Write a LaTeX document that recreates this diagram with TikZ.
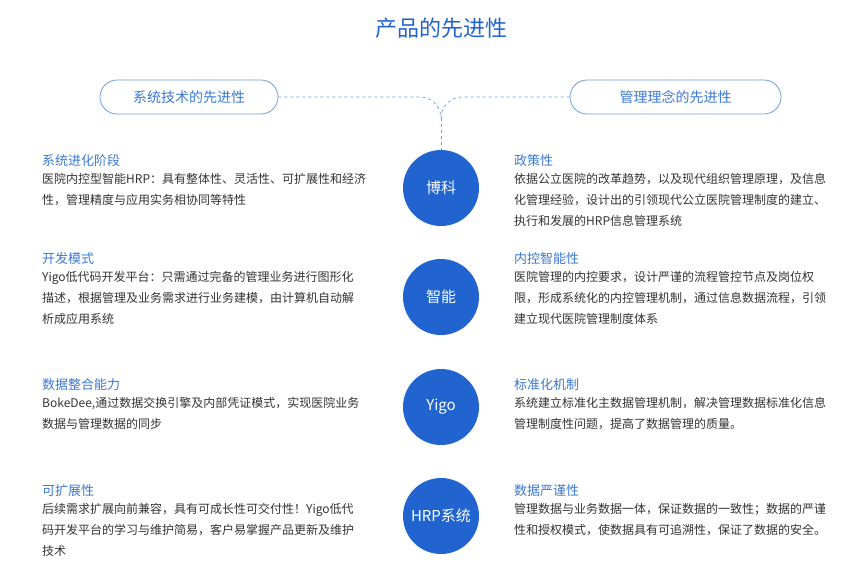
\documentclass[tikz,border=0pt]{standalone}
\usepackage{fontspec}
\setmainfont{Noto Sans CJK SC}
\definecolor{cblue}{HTML}{2163CF}
\definecolor{hblue}{HTML}{3A78D6}
\definecolor{lblue}{HTML}{6F9BE0}
\definecolor{txt}{HTML}{333333}
\tikzset{
 pill/.style={draw=lblue,line width=0.8pt,rounded corners=17pt,minimum width=178pt,minimum height=34pt,text=hblue,font=\fontsize{14}{16}\selectfont},
 circ/.style={circle,fill=cblue,minimum size=76pt,text=white,font=\fontsize{15}{18}\selectfont},
 head/.style={anchor=north west,text=hblue,font=\fontsize{13}{15}\selectfont,inner sep=0pt},
 body/.style={anchor=north west,text=txt,font=\fontsize{12}{21}\selectfont,align=left,inner sep=0pt},
 dashline/.style={draw=lblue,dashed,line width=0.7pt}
}
\begin{document}
\begin{tikzpicture}[x=1pt,y=-1pt]
\useasboundingbox (0,0) rectangle (867,571);
\node[text=cblue,font=\fontsize{22}{26}\selectfont] (title) at (441,28) {产品的先进性};
\node[pill] (L) at (189,97) {系统技术的先进性};
\node[pill,minimum width=211pt] (R) at (675.5,97) {管理理念的先进性};
\node[circ] (c1) at (441,188) {博科};
\node[circ] (c2) at (441,297) {智能};
\node[circ] (c3) at (441,407) {Yigo};
\node[circ] (c4) at (441,516) {HRP系统};
\coordinate (m) at (441,118);
\draw[dashline] (L.east) -- (420,97) to[out=0,in=90] (m);
\draw[dashline] (R.west) -- (462,97) to[out=180,in=90] (m);
\draw[dashline] (m) -- (c1.north);
% left
\node[head] (h1) at (42,154) {系统进化阶段};
\node[body] (b1) at (42,173) {医院内控型智能HRP：具有整体性、灵活性、可扩展性和经济\\性，管理精度与应用实务相协同等特性};
\node[head] (h2) at (42,252) {开发模式};
\node[body] (b2) at (42,271) {Yigo低代码开发平台：只需通过完备的管理业务进行图形化\\描述，根据管理及业务需求进行业务建模，由计算机自动解\\析成应用系统};
\node[head] (h3) at (42,378) {数据整合能力};
\node[body] (b3) at (42,397) {BokeDee,通过数据交换引擎及内部凭证模式，实现医院业务\\数据与管理数据的同步};
\node[head] (h4) at (42,484) {可扩展性};
\node[body] (b4) at (42,503) {后续需求扩展向前兼容，具有可成长性可交付性！Yigo低代\\码开发平台的学习与维护简易，客户易掌握产品更新及维护\\技术};
% right
\node[head] (h5) at (514,154) {政策性};
\node[body] (b5) at (514,173) {依据公立医院的改革趋势，以及现代组织管理原理，及信息\\化管理经验，设计出的引领现代公立医院管理制度的建立、\\执行和发展的HRP信息管理系统};
\node[head] (h6) at (514,252) {内控智能性};
\node[body] (b6) at (514,271) {医院管理的内控要求，设计严谨的流程管控节点及岗位权\\限，形成系统化的内控管理机制，通过信息数据流程，引领\\建立现代医院管理制度体系};
\node[head] (h7) at (514,378) {标准化机制};
\node[body] (b7) at (514,397) {系统建立标准化主数据管理机制，解决管理数据标准化信息\\管理制度性问题，提高了数据管理的质量。};
\node[head] (h8) at (514,484) {数据严谨性};
\node[body] (b8) at (514,503) {管理数据与业务数据一体，保证数据的一致性；数据的严谨\\性和授权模式，使数据具有可追溯性，保证了数据的安全。};
\end{tikzpicture}
\end{document}
